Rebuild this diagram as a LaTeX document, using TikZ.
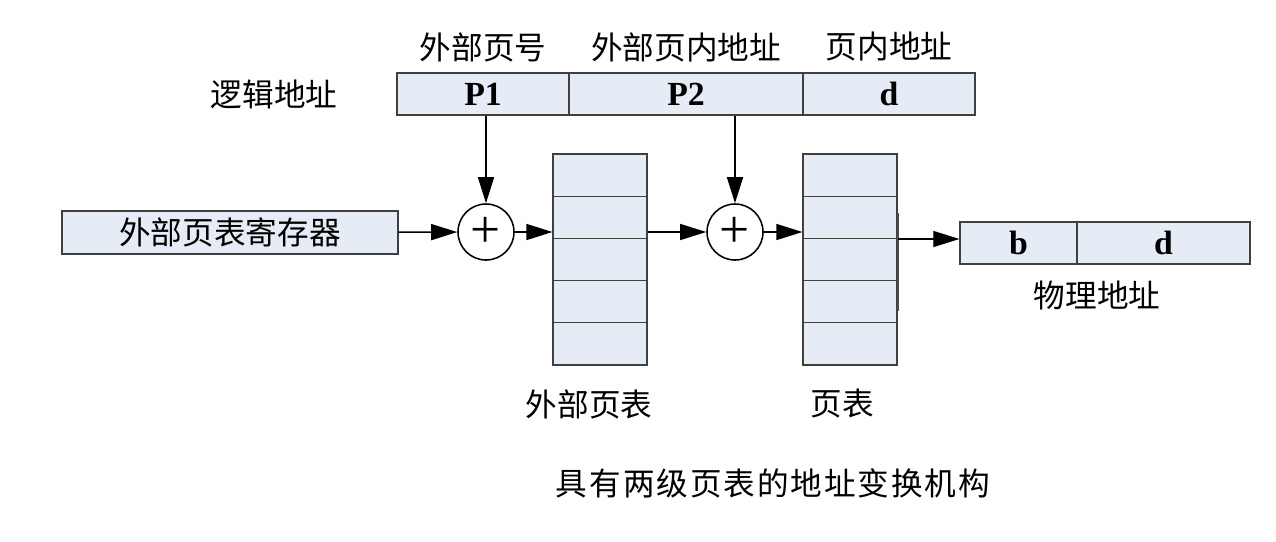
\documentclass[tikz,border=0pt]{standalone}
\usepackage{fontspec}
\setmainfont{Liberation Serif}
\newfontfamily\cjk{Noto Sans CJK SC}
\usetikzlibrary{positioning,arrows.meta}
\definecolor{cellfill}{RGB}{230,236,246}
\definecolor{cellline}{RGB}{64,64,64}

\begin{document}
\begin{tikzpicture}[x=0.025cm,y=-0.025cm,>={Triangle[length=6.5mm,width=4mm]},
  cell/.style={draw=cellline,fill=cellfill,line width=0.8pt,minimum height=1.05cm,inner sep=0pt,font=\bfseries\fontsize{24}{24}\selectfont},
  row/.style={cell,minimum width=2.35cm,minimum height=1.055cm},
  tag/.style={inner sep=0pt,font=\cjk\fontsize{22.5}{24}\selectfont},
  adder/.style={circle,draw,line width=1.1pt,minimum size=1.4cm,inner sep=0pt,font=\fontsize{38}{38}\selectfont},
  link/.style={->,line width=1pt}]
\useasboundingbox (0,0) rectangle (1276,541);
% logical address
\node[tag] (logic) at (274,94) {逻辑地址};
\node[cell,minimum width=4.3cm] (p1) at (483,94) {P1};
\node[cell,minimum width=5.85cm] (p2) at (686,94) {P2};
\node[cell,minimum width=4.3cm] (pd) at (889,94) {d};
\node[tag] (p1name) at (483,47) {外部页号};
\node[tag] (p2name) at (686,47) {外部页内地址};
\node[tag] (pdname) at (889,47) {页内地址};
% register and adders
\node[cell,minimum width=8.4cm,minimum height=1.075cm,font=\cjk\fontsize{22.5}{24}\selectfont] (reg) at (230,232.5) {外部页表寄存器};
\node[adder] (add1) at (486,232) {+};
\node[adder] (add2) at (735,232) {+};
% the two tables
\foreach \i in {1,...,5} {
  \node[row] (ot\i) at (600,{154+42.2*(\i-0.5)}) {};
  \node[row] (pt\i) at (850,{154+42.2*(\i-0.5)}) {};
}
\node[tag] (otname) at (589,404) {外部页表};
\node[tag] (ptname) at (842,404) {页表};
% physical address
\node[cell,minimum width=2.925cm] (pb) at (1018.5,243) {b};
\node[cell,minimum width=4.325cm] (pdd) at (1163.5,243) {d};
\node[tag] (physname) at (1097,295) {物理地址};
\node[tag] (title) at (773,483) {\addfontfeatures{LetterSpace=6}具有两级页表的地址变换机构};
% connectors
\draw[link] (reg) -- (add1);
\draw[link] (add1 |- p1.south) -- (add1);
\draw[link] (add1.east) -- (add1.east -| ot1.west);
\draw[link] (add1.east -| ot1.east) -- (add2);
\draw[link] (add2 |- p2.south) -- (add2);
\draw[link] (add2.east) -- (add2.east -| pt1.west);
\coordinate (vtop) at (898,213);
\coordinate (vbot) at (898,311);
\draw[line width=1.6pt,black!70] (vtop) -- (vbot);
\coordinate (tap) at (898,239);
\draw[link,line width=0.8pt] (tap) -- (tap -| pb.west);
\end{tikzpicture}
\end{document}
